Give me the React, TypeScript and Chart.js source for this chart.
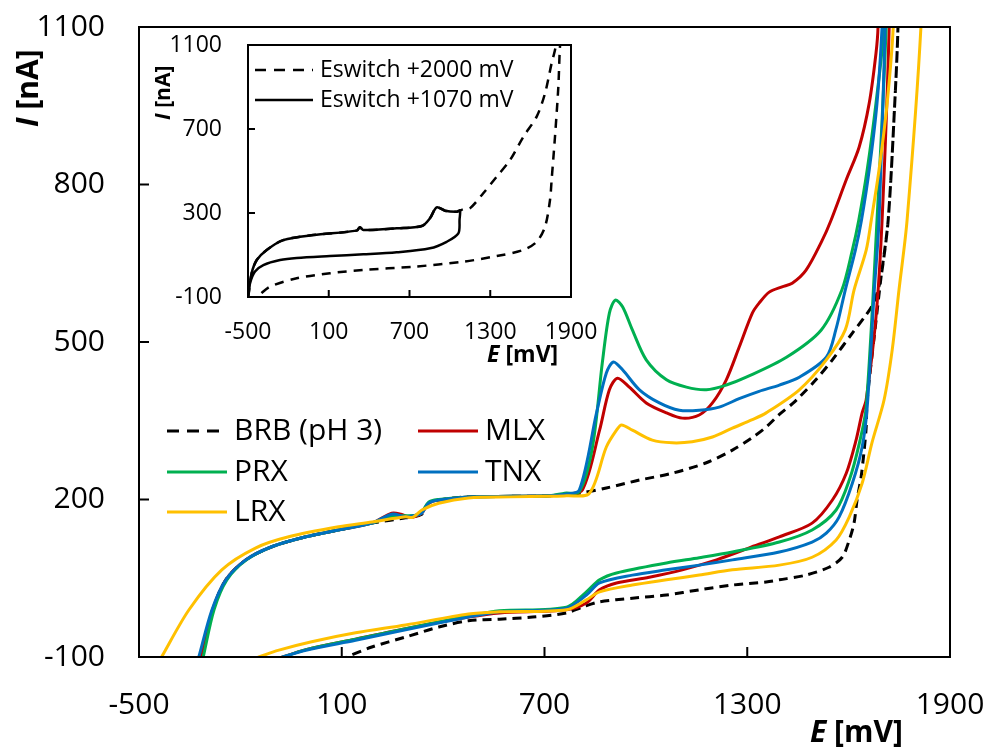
import React, { useEffect, useRef } from "react";
import { Chart, registerables } from "chart.js";

Chart.register(...registerables);

// ---------- main chart data (E in mV, I in nA) ----------
const xTicks = [-500, 100, 700, 1300, 1900];
const yTicks = [-100, 200, 500, 800, 1100];

const brbE = [-318, -282, -243, -184, -107, -6, 91, 189, 289, 337, 357, 387, 475, 600, 715, 803, 883, 981, 1078, 1179, 1256, 1315, 1356, 1395, 1433, 1454, 1503, 1552, 1611, 1650, 1672, 1685, 1696, 1717, 1737, 1746, 1750,
  1746, 1737, 1717, 1696, 1678, 1655, 1652, 1646, 1637, 1625, 1616, 1602, 1581, 1542, 1474, 1395, 1356, 1256, 1158, 1061, 960, 863, 812, 765, 665, 567, 475, 387, 289, 189, 100];
const brbI = [-100, -10, 47, 85, 110, 129, 142, 155, 165, 172, 193, 199, 205, 206, 207, 212, 222, 237, 250, 270, 294, 318, 338, 362, 382, 395, 428, 466, 517, 550, 572, 595, 624, 732, 961, 1100, 1300,
  1100, 961, 732, 624, 523, 390, 338, 294, 243, 199, 155, 123, 90, 71, 56, 47, 43, 37, 28, 18, 12, 5, -5, -16, -24, -28, -31, -43, -62, -81, -104];

const mlxE = [-318, -282, -243, -184, -107, -6, 91, 189, 248, 275, 300, 319, 337, 357, 387, 475, 600, 715, 760, 812, 863, 892, 916, 951, 1001, 1061, 1108, 1158, 1197, 1238, 1276, 1315, 1335, 1365, 1403, 1433, 1474, 1522, 1548, 1593, 1631, 1661, 1681, 1687, 1692,
  1722, 1720, 1699, 1681, 1652, 1640, 1622, 1593, 1552, 1492, 1395, 1306, 1209, 1108, 1010, 913, 863, 824, 765, 567, 475, 289, 141, -6, -92];
const mlxI = [-100, -10, 47, 85, 110, 129, 142, 155, 174, 172, 166, 168, 174, 193, 199, 205, 206, 207, 210, 218, 332, 409, 431, 414, 384, 365, 355, 361, 384, 428, 490, 555, 574, 595, 605, 612, 637, 694, 732, 809, 871, 955, 1050, 1100, 1300,
  1300, 1100, 732, 548, 390, 365, 313, 250, 199, 155, 129, 108, 85, 66, 52, 41, 28, 3, -10, -16, -24, -46, -66, -86, -104];

const prxE = [-310, -278, -240, -182, -107, -6, 91, 189, 248, 319, 337, 357, 387, 475, 600, 715, 760, 803, 842, 871, 892, 910, 931, 960, 1001, 1061, 1120, 1179, 1238, 1297, 1416, 1519, 1580, 1611, 1630, 1655, 1681, 1705, 1715,
  1716, 1711, 1684, 1652, 1632, 1602, 1563, 1492, 1395, 1256, 1158, 1061, 913, 863, 824, 765, 567, 475, 289, 141, -6, -90];
const prxI = [-100, -10, 47, 85, 110, 129, 142, 155, 168, 170, 176, 195, 200, 205, 206, 207, 212, 215, 300, 460, 555, 580, 567, 523, 466, 428, 414, 409, 418, 433, 471, 523, 599, 675, 732, 828, 955, 1100, 1300,
  1300, 1100, 732, 376, 308, 237, 180, 142, 119, 100, 89, 79, 60, 47, 24, -5, -12, -22, -46, -66, -86, -104];

const tnxE = [-323, -284, -243, -184, -107, -6, 91, 189, 248, 289, 319, 337, 357, 387, 475, 600, 715, 760, 803, 854, 883, 904, 931, 981, 1040, 1099, 1158, 1217, 1276, 1335, 1395, 1454, 1534, 1562, 1590, 1620, 1638, 1661, 1684, 1699, 1712,
  1714, 1708, 1690, 1676, 1655, 1640, 1611, 1572, 1534, 1492, 1395, 1256, 1158, 1061, 960, 863, 824, 765, 567, 475, 289, 141, -6, -95];
const tnxI = [-100, -10, 47, 85, 110, 129, 142, 155, 172, 167, 170, 174, 193, 199, 205, 206, 207, 210, 218, 365, 441, 462, 447, 409, 384, 370, 370, 376, 392, 406, 418, 433, 471, 523, 599, 675, 732, 828, 955, 1100, 1300,
  1300, 1100, 732, 599, 376, 300, 231, 167, 136, 119, 100, 85, 75, 66, 56, 41, 18, -7, -14, -24, -48, -68, -87, -104];

const lrxE = [-435, -352, -255, -154, -57, 91, 189, 289, 310, 337, 387, 475, 600, 715, 765, 833, 883, 913, 928, 960, 1019, 1078, 1137, 1197, 1256, 1315, 1356, 1454, 1534, 1590, 1616, 1652, 1667, 1690, 1714, 1732, 1740,
  1820, 1814, 1773, 1749, 1729, 1705, 1669, 1640, 1602, 1563, 1492, 1395, 1256, 1158, 1061, 960, 863, 824, 765, 567, 475, 289, 141, 11, -86, -154];
const lrxI = [-102, -10, 66, 108, 129, 148, 157, 167, 166, 180, 193, 203, 205, 206, 207, 212, 300, 332, 342, 332, 313, 308, 310, 319, 336, 352, 365, 409, 466, 523, 599, 675, 732, 828, 955, 1100, 1300,
  1300, 1100, 732, 599, 485, 390, 308, 231, 167, 123, 90, 75, 66, 56, 47, 37, 24, 9, -10, -14, -18, -39, -54, -71, -87, -102];

// ---------- inset data ----------
const insetXTicks = [-500, 100, 700, 1300, 1900];
const insetYTicks = [-100, 300, 700, 1100];

const sw1070E = [-498, -473, -435, -361, -238, -15, 307, 332, 357, 605, 791, 852, 902, 964, 1051, 1075, 1072, 1063, 976, 852, 605, 357, 109, -138, -262, -386, -448, -485, -498];
const sw1070I = [-99, 13, 76, 124, 171, 195, 216, 232, 219, 227, 238, 275, 327, 311, 306, 312, 270, 203, 163, 132, 113, 103, 95, 86, 76, 52, 21, -35, -99];

const sw2000E = [-498, -473, -435, -361, -238, -15, 307, 332, 357, 605, 791, 852, 902, 964, 1051, 1100, 1149, 1248, 1348, 1447, 1546, 1645, 1707, 1756, 1781, 1800,
  1830, 1818, 1806, 1781, 1756, 1744, 1707, 1645, 1546, 1348, 1100, 728, 357, 109, -138, -337, -435, -500];
const sw2000I = [-99, 13, 76, 124, 171, 195, 216, 232, 219, 227, 238, 275, 327, 311, 306, 318, 322, 394, 473, 552, 663, 759, 870, 1013, 1076, 1150,
  1150, 1092, 902, 663, 457, 362, 235, 163, 124, 95, 68, 44, 29, 13, -11, -51, -99, -115];

const pts = (e: number[], i: number[]) => e.map((x, k) => ({ x, y: i[k] }));

const FONT = '"Open Sans", "Noto Sans", sans-serif';

type LegendItem = { label: string; color: string; dash: number[]; x1: number; x2: number; tx: number; y: number; lw: number };

function drawRich(ctx: CanvasRenderingContext2D, x: number, y: number, angle: number, size: number, parts: [string, boolean][]) {
  ctx.save();
  ctx.translate(x, y);
  ctx.rotate(angle);
  ctx.textBaseline = "alphabetic";
  ctx.textAlign = "left";
  ctx.fillStyle = "#000";
  let off = 0;
  for (const [txt, ital] of parts) {
    ctx.font = `${ital ? "italic " : ""}bold ${size}px ${FONT}`;
    ctx.fillText(txt, off, 0);
    off += ctx.measureText(txt).width;
  }
  ctx.restore();
}

function makeDecor(opts: {
  frameWidth: number;
  tickLen: number;
  legend: LegendItem[];
  legendFont: number;
  yTitle: { x: number; y: number; size: number };
  xTitle: { x: number; y: number; size: number };
}) {
  return {
    id: "decor",
    afterDraw(chart: any) {
      const { ctx, chartArea: a, scales } = chart;
      ctx.save();
      ctx.strokeStyle = "#000";
      ctx.lineWidth = opts.frameWidth;
      ctx.setLineDash([]);
      ctx.strokeRect(a.left, a.top, a.right - a.left, a.bottom - a.top);
      ctx.beginPath();
      scales.x.ticks.forEach((t: any) => {
        const px = scales.x.getPixelForValue(t.value);
        ctx.moveTo(px, a.bottom);
        ctx.lineTo(px, a.bottom - opts.tickLen);
      });
      scales.y.ticks.forEach((t: any) => {
        const py = scales.y.getPixelForValue(t.value);
        ctx.moveTo(a.left, py);
        ctx.lineTo(a.left + opts.tickLen, py);
      });
      ctx.stroke();

      // legend
      ctx.font = `${opts.legendFont}px ${FONT}`;
      ctx.textBaseline = "middle";
      ctx.textAlign = "left";
      for (const it of opts.legend) {
        ctx.strokeStyle = it.color;
        ctx.lineWidth = it.lw;
        ctx.setLineDash(it.dash);
        ctx.beginPath();
        ctx.moveTo(it.x1, it.y);
        ctx.lineTo(it.x2, it.y);
        ctx.stroke();
        ctx.setLineDash([]);
        ctx.fillStyle = "#000";
        ctx.fillText(it.label, it.tx, it.y);
      }
      ctx.restore();

      drawRich(ctx, opts.yTitle.x, opts.yTitle.y, -Math.PI / 2, opts.yTitle.size, [["I", true], [" [nA]", false]]);
      drawRich(ctx, opts.xTitle.x, opts.xTitle.y, 0, opts.xTitle.size, [["E", true], [" [mV]", false]]);
    },
  };
}

const COLORS = { brb: "#000000", mlx: "#C00000", prx: "#00B050", tnx: "#0070C0", lrx: "#FFC000" };
const BRB_DASH = [9, 6];

// fixed axis box sizes, with the scale's own label padding removed so layout padding rules
const fixX = (h: number) => (s: any) => { s.height = h; s.paddingLeft = 0; s.paddingRight = 0; };
const fixY = (w: number) => (s: any) => { s.width = w; s.paddingTop = 0; s.paddingBottom = 0; };

export default function App() {
  const mainRef = useRef<HTMLCanvasElement>(null);
  const insetRef = useRef<HTMLCanvasElement>(null);

  useEffect(() => {
    const line = (label: string, e: number[], i: number[], color: string, order: number, dash: number[] = [], width = 3) => ({
      label,
      data: pts(e, i),
      showLine: true,
      borderColor: color,
      backgroundColor: color,
      borderWidth: width,
      borderDash: dash,
      pointRadius: 0,
      tension: 0.3,
      fill: false,
      order,
    });

    const mainLegend: LegendItem[] = [
      { label: "BRB (pH 3)", color: COLORS.brb, dash: [12, 8], x1: 167, x2: 227, tx: 234, y: 431, lw: 3 },
      { label: "MLX", color: COLORS.mlx, dash: [], x1: 418, x2: 478, tx: 485, y: 431, lw: 3 },
      { label: "PRX", color: COLORS.prx, dash: [], x1: 167, x2: 227, tx: 234, y: 472, lw: 3 },
      { label: "TNX", color: COLORS.tnx, dash: [], x1: 418, x2: 478, tx: 485, y: 472, lw: 3 },
      { label: "LRX", color: COLORS.lrx, dash: [], x1: 167, x2: 227, tx: 234, y: 512, lw: 3 },
    ];

    const tickFont = { family: FONT, size: 30 };
    const main = new Chart(mainRef.current as HTMLCanvasElement, {
      type: "scatter",
      data: {
        datasets: [
          line("LRX", lrxE, lrxI, COLORS.lrx, 0),
          line("TNX", tnxE, tnxI, COLORS.tnx, 1),
          line("PRX", prxE, prxI, COLORS.prx, 2),
          line("MLX", mlxE, mlxI, COLORS.mlx, 3),
          line("BRB (pH 3)", brbE, brbI, COLORS.brb, 4, BRB_DASH),
        ] as any,
      },
      options: {
        animation: false,
        responsive: false,
        maintainAspectRatio: false,
        layout: { autoPadding: false, padding: { top: 27, right: 40, left: 0, bottom: 0 } },
        plugins: { legend: { display: false }, tooltip: { enabled: false } },
        scales: {
          x: {
            type: "linear",
            min: xTicks[0],
            max: xTicks[xTicks.length - 1],
            afterBuildTicks: (s: any) => { s.ticks = xTicks.map((v) => ({ value: v })); },
            ticks: { font: tickFont, color: "#000", padding: 30, maxRotation: 0, autoSkip: false, callback: (v: any) => String(v) },
            grid: { display: false, drawTicks: false },
            border: { display: false },
            afterFit: fixX(92),
          },
          y: {
            type: "linear",
            min: yTicks[0],
            max: yTicks[yTicks.length - 1],
            afterBuildTicks: (s: any) => { s.ticks = yTicks.map((v) => ({ value: v })); },
            ticks: { font: tickFont, color: "#000", padding: 34, autoSkip: false, callback: (v: any) => String(v) },
            grid: { display: false, drawTicks: false },
            border: { display: false },
            afterFit: fixY(139),
          },
        },
      } as any,
      plugins: [
        makeDecor({
          frameWidth: 2,
          tickLen: 10,
          legend: mainLegend,
          legendFont: 30,
          yTitle: { x: 38, y: 127, size: 30 },
          xTitle: { x: 810, y: 742, size: 30 },
        }) as any,
      ],
    });

    const insetLegend: LegendItem[] = [
      { label: "Eswitch +2000 mV", color: "#000", dash: [11, 8], x1: 255, x2: 313, tx: 320, y: 70, lw: 2.5 },
      { label: "Eswitch +1070 mV", color: "#000", dash: [], x1: 255, x2: 313, tx: 320, y: 100, lw: 2.5 },
    ].map((it) => ({ ...it, x1: it.x1 - 140, x2: it.x2 - 140, tx: it.tx - 140, y: it.y - 20 }));

    const insetFont = { family: FONT, size: 23 };
    const inset = new Chart(insetRef.current as HTMLCanvasElement, {
      type: "scatter",
      data: {
        datasets: [
          line("Eswitch +1070 mV", sw1070E, sw1070I, "#000", 0, [], 2.5),
          line("Eswitch +2000 mV", sw2000E, sw2000I, "#000", 1, [9, 7], 2.5),
        ] as any,
      },
      options: {
        animation: false,
        responsive: false,
        maintainAspectRatio: false,
        layout: { autoPadding: false, padding: { top: 25, right: 29, left: 0, bottom: 0 } },
        plugins: { legend: { display: false }, tooltip: { enabled: false } },
        scales: {
          x: {
            type: "linear",
            min: insetXTicks[0],
            max: insetXTicks[insetXTicks.length - 1],
            afterBuildTicks: (s: any) => { s.ticks = insetXTicks.map((v) => ({ value: v })); },
            ticks: { font: insetFont, color: "#000", padding: 22, maxRotation: 0, autoSkip: false, callback: (v: any) => String(v) },
            grid: { display: false, drawTicks: false },
            border: { display: false },
            afterFit: fixX(83),
          },
          y: {
            type: "linear",
            min: insetYTicks[0],
            max: insetYTicks[insetYTicks.length - 1],
            afterBuildTicks: (s: any) => { s.ticks = insetYTicks.map((v) => ({ value: v })); },
            ticks: { font: insetFont, color: "#000", padding: 26, autoSkip: false, callback: (v: any) => String(v) },
            grid: { display: false, drawTicks: false },
            border: { display: false },
            afterFit: fixY(108),
          },
        },
      } as any,
      plugins: [
        makeDecor({
          frameWidth: 2,
          tickLen: 7,
          legend: insetLegend,
          legendFont: 23,
          yTitle: { x: 30, y: 100, size: 21 },
          xTitle: { x: 347, y: 342, size: 23 },
        }) as any,
      ],
    });

    return () => {
      main.destroy();
      inset.destroy();
    };
  }, []);

  return (
    <div style={{ position: "absolute", left: 0, top: 0, width: 990, height: 749, background: "#fff", overflow: "hidden" }}>
      <canvas ref={mainRef} width={990} height={749} style={{ position: "absolute", left: 0, top: 0, width: 990, height: 749 }} />
      <canvas ref={insetRef} width={460} height={360} style={{ position: "absolute", left: 140, top: 20, width: 460, height: 360 }} />
    </div>
  );
}
